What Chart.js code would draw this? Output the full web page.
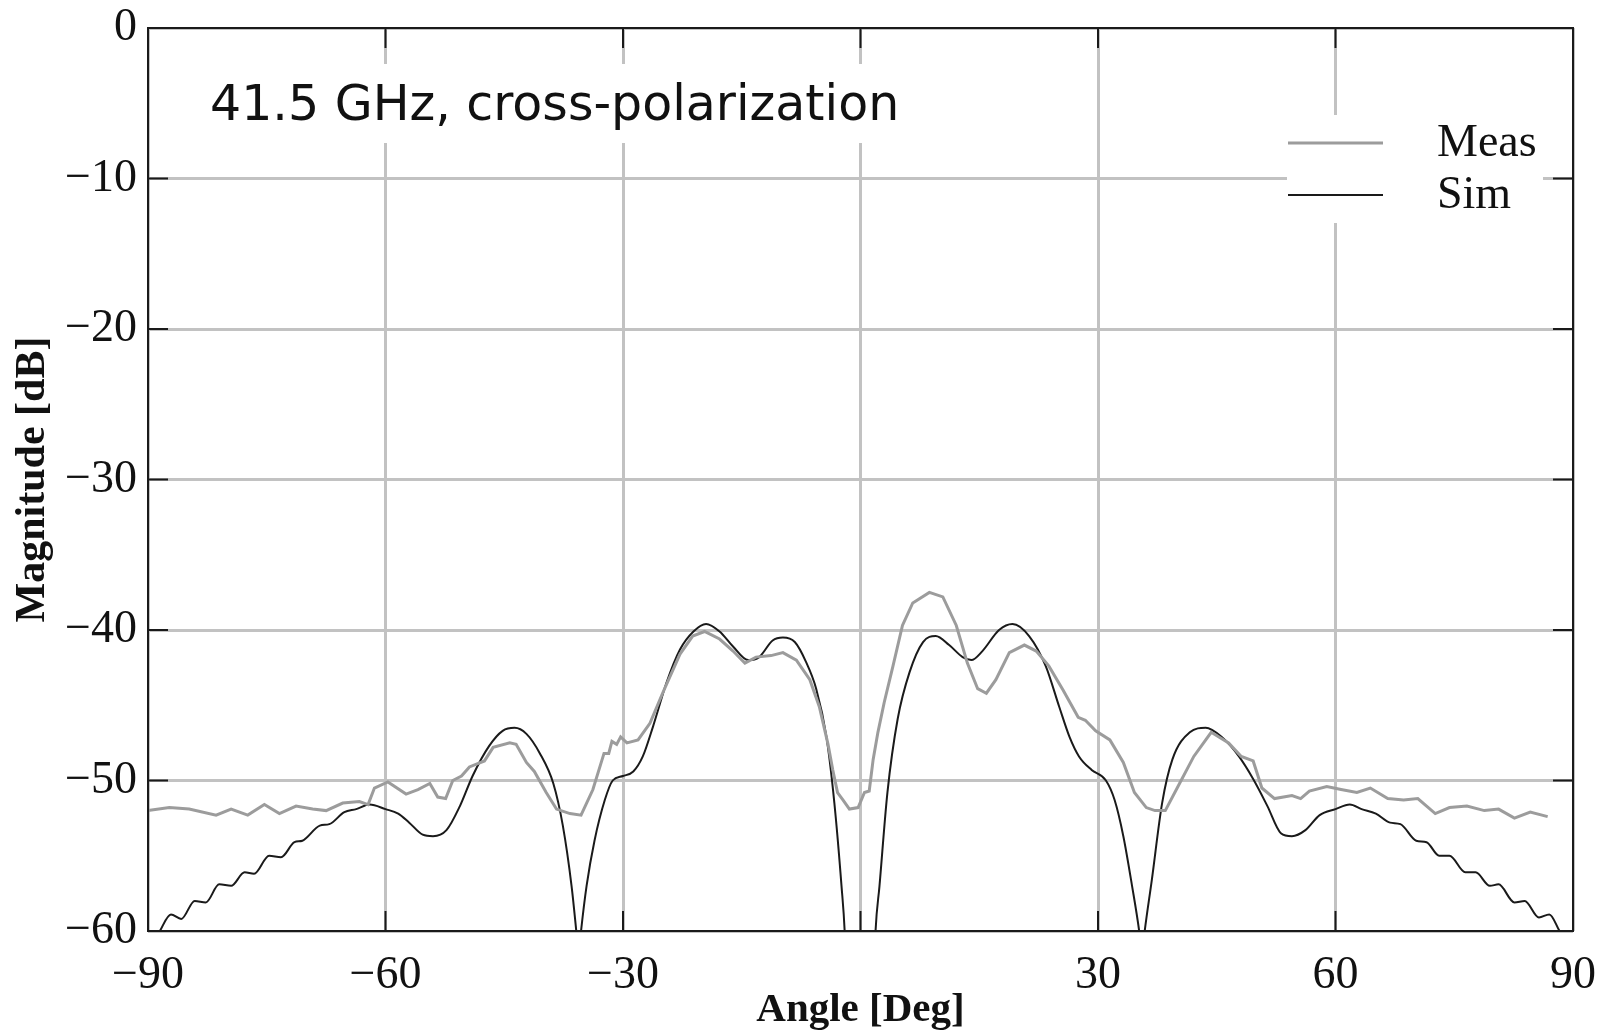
<!DOCTYPE html>
<html>
<head>
<meta charset="utf-8">
<title>41.5 GHz cross-polarization</title>
<script src="https://cdn.jsdelivr.net/npm/chart.js@4/dist/chart.umd.min.js"></script>
<style>
    html, body { margin: 0; padding: 0; background: #fff; }
    #wrap { width: 1599px; height: 1032px; }
</style>
</head>
<body>
<div id="wrap"><canvas id="PatternChart" width="1599" height="1032"></canvas></div>
<script>
// axis ticks
const xTicks = [-90, -60, -30, 0, 30, 60, 90];
const xTickText = ["\u221290", "\u221260", "\u221230", "", "30", "60", "90"];
const yTicks = [0, -10, -20, -30, -40, -50, -60];
const yTickText = ["0", "\u221210", "\u221220", "\u221230", "\u221240", "\u221250", "\u221260"];

const measAngle = [-90, -87.3, -84.8, -81.4, -79.5, -77.4, -75.3, -73.4, -71.3, -69.2, -67.5, -65.4, -63.3, -62.2, -61.4, -59.7, -57.4, -55.9, -54.4, -53.4, -52.4, -51.5, -50.4, -49.4, -47.5, -46.4, -44.3, -43.5, -42.2, -41.2, -39.7, -38.4, -36.7, -35.3, -33.8, -32.4, -31.8, -31.4, -30.8, -30.3, -29.5, -28.1, -26.6, -25.0, -22.8, -21.2, -19.7, -17.8, -16.1, -14.6, -13.2, -11.3, -9.8, -8.1, -6.4, -5.2, -4.1, -3.5, -2.9, -2.2, -1.4, -0.3, 0.5, 1.1, 1.6, 2.2, 3.0, 4.1, 5.3, 6.6, 8.7, 10.4, 12.1, 13.5, 14.8, 15.9, 17.1, 18.8, 20.7, 22.2, 23.8, 25.6, 27.5, 28.4, 29.7, 31.5, 33.2, 34.6, 36.1, 37.2, 38.5, 40.1, 42.1, 44.3, 46.5, 48.1, 49.6, 50.7, 52.3, 54.5, 55.6, 56.7, 58.9, 60.7, 62.7, 64.4, 66.6, 68.6, 70.4, 72.6, 74.4, 76.6, 78.8, 80.6, 82.6, 84.6, 86.8];
const measDb = [-52.0, -51.8, -51.9, -52.3, -51.9, -52.3, -51.6, -52.2, -51.7, -51.9, -52.0, -51.5, -51.4, -51.6, -50.5, -50.1, -50.9, -50.6, -50.2, -51.1, -51.2, -50.0, -49.7, -49.1, -48.7, -47.8, -47.5, -47.6, -48.8, -49.4, -50.8, -51.9, -52.2, -52.3, -50.6, -48.2, -48.2, -47.4, -47.6, -47.1, -47.5, -47.3, -46.2, -44.2, -41.6, -40.4, -40.1, -40.6, -41.4, -42.2, -41.8, -41.7, -41.5, -42.0, -43.3, -45.1, -47.6, -49.3, -50.8, -51.3, -51.9, -51.8, -50.8, -50.7, -48.6, -46.8, -44.8, -42.4, -39.7, -38.2, -37.5, -37.8, -39.7, -42.2, -43.9, -44.2, -43.3, -41.5, -41.0, -41.4, -42.4, -44.0, -45.8, -46.0, -46.7, -47.3, -48.8, -50.8, -51.8, -52.0, -52.0, -50.4, -48.4, -46.8, -47.5, -48.4, -48.7, -50.5, -51.2, -51.0, -51.2, -50.7, -50.4, -50.6, -50.8, -50.5, -51.2, -51.3, -51.2, -52.2, -51.8, -51.7, -52.0, -51.9, -52.5, -52.1, -52.4];

// simulated pattern (nulls drop below the axis floor)
const simAngle = [-90, -88.5, -87.1, -85.8, -84.1, -82.7, -81.0, -79.5, -77.8, -76.6, -74.7, -73.2, -71.5, -70.5, -68.3, -67.1, -65.2, -63.7, -62.0, -60.0, -58.4, -57.0, -55.3, -54.0, -52.3, -50.6, -49.0, -46.9, -45.2, -43.7, -42.2, -40.5, -38.8, -37.6, -36.5, -35.9, -35.6, -35.3, -34.6, -33.6, -32.3, -31.3, -30.0, -28.7, -27.5, -26.2, -24.5, -22.8, -21.1, -19.5, -17.8, -16.1, -14.2, -12.8, -11.1, -9.8, -8.3, -6.9, -5.6, -4.3, -3.3, -2.4, -2.0, -1.6, 0, 1.5, 1.9, 2.4, 3.4, 4.7, 6.2, 7.9, 9.5, 11.2, 12.9, 14.0, 15.4, 17.5, 19.2, 21.3, 23.4, 25.1, 26.4, 27.6, 29.2, 31.0, 32.1, 33.2, 34.3, 35.2, 35.55, 35.9, 36.8, 38.1, 39.4, 41.6, 43.6, 45.6, 47.8, 49.6, 51.4, 53.1, 54.5, 56.2, 58.0, 60.0, 61.8, 63.3, 65.1, 66.9, 68.2, 70.2, 71.5, 73.1, 74.4, 76.4, 77.7, 79.5, 80.6, 82.6, 83.9, 85.7, 87.0, 88.3, 90];
const simDb = [-61.5, -60.0, -58.9, -59.2, -58.0, -58.1, -56.9, -57.0, -56.1, -56.2, -55.0, -55.1, -54.1, -54.0, -53.0, -52.9, -52.1, -51.9, -51.6, -51.9, -52.2, -52.8, -53.6, -53.7, -53.3, -51.7, -49.7, -47.7, -46.7, -46.5, -46.9, -48.2, -50.2, -53.0, -57.0, -60.0, -61.6, -60.0, -57.0, -54.0, -51.3, -50.0, -49.7, -49.4, -48.4, -46.4, -43.5, -41.3, -40.1, -39.6, -40.1, -41.1, -42.0, -41.8, -40.7, -40.5, -40.8, -42.1, -43.9, -47.1, -51.5, -57.0, -60.0, -66.0, -80.0, -66.0, -60.0, -57.0, -50.8, -45.9, -42.8, -40.8, -40.4, -41.0, -41.8, -42.0, -41.4, -40.0, -39.6, -40.4, -42.4, -45.1, -47.1, -48.4, -49.3, -50.0, -51.3, -53.7, -57.0, -60.0, -61.6, -60.0, -56.6, -51.5, -48.6, -46.8, -46.5, -47.1, -48.4, -49.9, -51.7, -53.5, -53.7, -53.3, -52.3, -51.9, -51.6, -51.9, -52.2, -52.8, -52.9, -54.0, -54.1, -55.0, -55.0, -56.1, -56.1, -57.0, -56.9, -58.1, -58.0, -59.1, -58.9, -60.0, -61.5];

const noteText = "41.5 GHz, cross-polarization";
const serif = "'Liberation Serif', 'Times New Roman', serif";

const framePlugin = {
    id: "frame",
    beforeDatasetsDraw(chart) {
        const { ctx, chartArea: ca } = chart;
        ctx.save();
        // white patches that break the grid behind the note and legend
        ctx.fillStyle = "#fff";
        ctx.fillRect(ca.left + 52, 64, 706, 79);
        ctx.fillRect(ca.right - 286, 115, 256, 108);

        ctx.fillStyle = "#111";
        ctx.textBaseline = "middle";
        ctx.font = "49px 'DejaVu Sans', Verdana, sans-serif";
        ctx.fillText(noteText, ca.left + 62, 107);

        // legend
        ctx.font = "46px " + serif;
        const rows = [143, 195];
        chart.data.datasets.forEach((ds, i) => {
            ctx.strokeStyle = ds.borderColor;
            ctx.lineWidth = ds.borderWidth;
            ctx.beginPath();
            ctx.moveTo(ca.right - 285, rows[i]);
            ctx.lineTo(ca.right - 190, rows[i]);
            ctx.stroke();
            ctx.fillText(ds.label, ca.right - 136, rows[i] + 1);
        });
        ctx.restore();
    },
    afterDatasetsDraw(chart) {
        const { ctx, chartArea: ca, scales } = chart;
        ctx.save();
        ctx.strokeStyle = "#1a1a1a";
        ctx.lineWidth = 2;
        ctx.beginPath();
        xTicks.slice(1, -1).forEach((v) => {
            const px = scales.x.getPixelForValue(v);
            ctx.moveTo(px, ca.bottom);
            ctx.lineTo(px, ca.bottom - 20);
            ctx.moveTo(px, ca.top);
            ctx.lineTo(px, ca.top + 20);
        });
        yTicks.slice(1, -1).forEach((v) => {
            const py = scales.y.getPixelForValue(v);
            ctx.moveTo(ca.left, py);
            ctx.lineTo(ca.left + 20, py);
            ctx.moveTo(ca.right, py);
            ctx.lineTo(ca.right - 20, py);
        });
        ctx.stroke();
        ctx.strokeRect(ca.left, ca.top, ca.right - ca.left, ca.bottom - ca.top);
        ctx.restore();
    },
};

function PatternChart() {
    const ctx = document.getElementById("PatternChart");

    new Chart(ctx, {
        type: "line",
        data: {
            datasets: [
                {
                    label: "Meas",
                    data: measAngle.map((a, i) => ({ x: a, y: measDb[i] })),
                    borderColor: "#9c9c9c",
                    borderWidth: 3,
                    pointRadius: 0,
                    fill: false,
                    tension: 0,
                    clip: 0,
                },
                {
                    label: "Sim",
                    data: simAngle.map((a, i) => ({ x: a, y: simDb[i] })),
                    borderColor: "#1a1a1a",
                    borderWidth: 2,
                    pointRadius: 0,
                    fill: false,
                    cubicInterpolationMode: "monotone",
                    clip: 0,
                },
            ],
        },
        options: {
            responsive: false,
            animation: false,
            layout: {
                padding: { top: 28, right: 26, bottom: 0, left: 0 },
            },
            plugins: {
                legend: { display: false },
                tooltip: { enabled: false },
            },
            scales: {
                x: {
                    type: "linear",
                    min: -90,
                    max: 90,
                    afterBuildTicks: (s) => { s.ticks = xTicks.map((v) => ({ value: v })); },
                    afterFit: (s) => {
                        s.height = 101;
                        s.paddingLeft = 0;
                        s.paddingRight = 0;
                    },
                    grid: { color: "#c2c2c2", lineWidth: 3, drawTicks: false },
                    border: { display: false },
                    ticks: {
                        padding: 17,
                        color: "#111",
                        font: { family: serif, size: 46 },
                        maxRotation: 0,
                        callback: (v) => xTickText[xTicks.indexOf(v)],
                    },
                    title: {
                        display: true,
                        text: "Angle [Deg]",
                        color: "#111",
                        font: { family: serif, size: 41, weight: "bold", lineHeight: 1.05 },
                        padding: { top: 0, bottom: 0 },
                    },
                },
                y: {
                    min: -60,
                    max: 0,
                    afterBuildTicks: (s) => { s.ticks = yTicks.map((v) => ({ value: v })); },
                    afterFit: (s) => {
                        s.width = 148;
                        s.paddingTop = 0;
                        s.paddingBottom = 0;
                    },
                    grid: { color: "#c2c2c2", lineWidth: 3, drawTicks: false },
                    border: { display: false },
                    ticks: {
                        padding: 11,
                        color: "#111",
                        font: { family: serif, size: 46, lineHeight: 1.0 },
                        callback: (v) => yTickText[yTicks.indexOf(v)],
                    },
                    title: {
                        display: true,
                        text: "Magnitude [dB]",
                        color: "#111",
                        font: { family: serif, size: 42, weight: "bold" },
                        padding: { top: 8, bottom: 0 },
                    },
                },
            },
        },
        plugins: [framePlugin],
    });
}

PatternChart();
</script>
</body>
</html>
